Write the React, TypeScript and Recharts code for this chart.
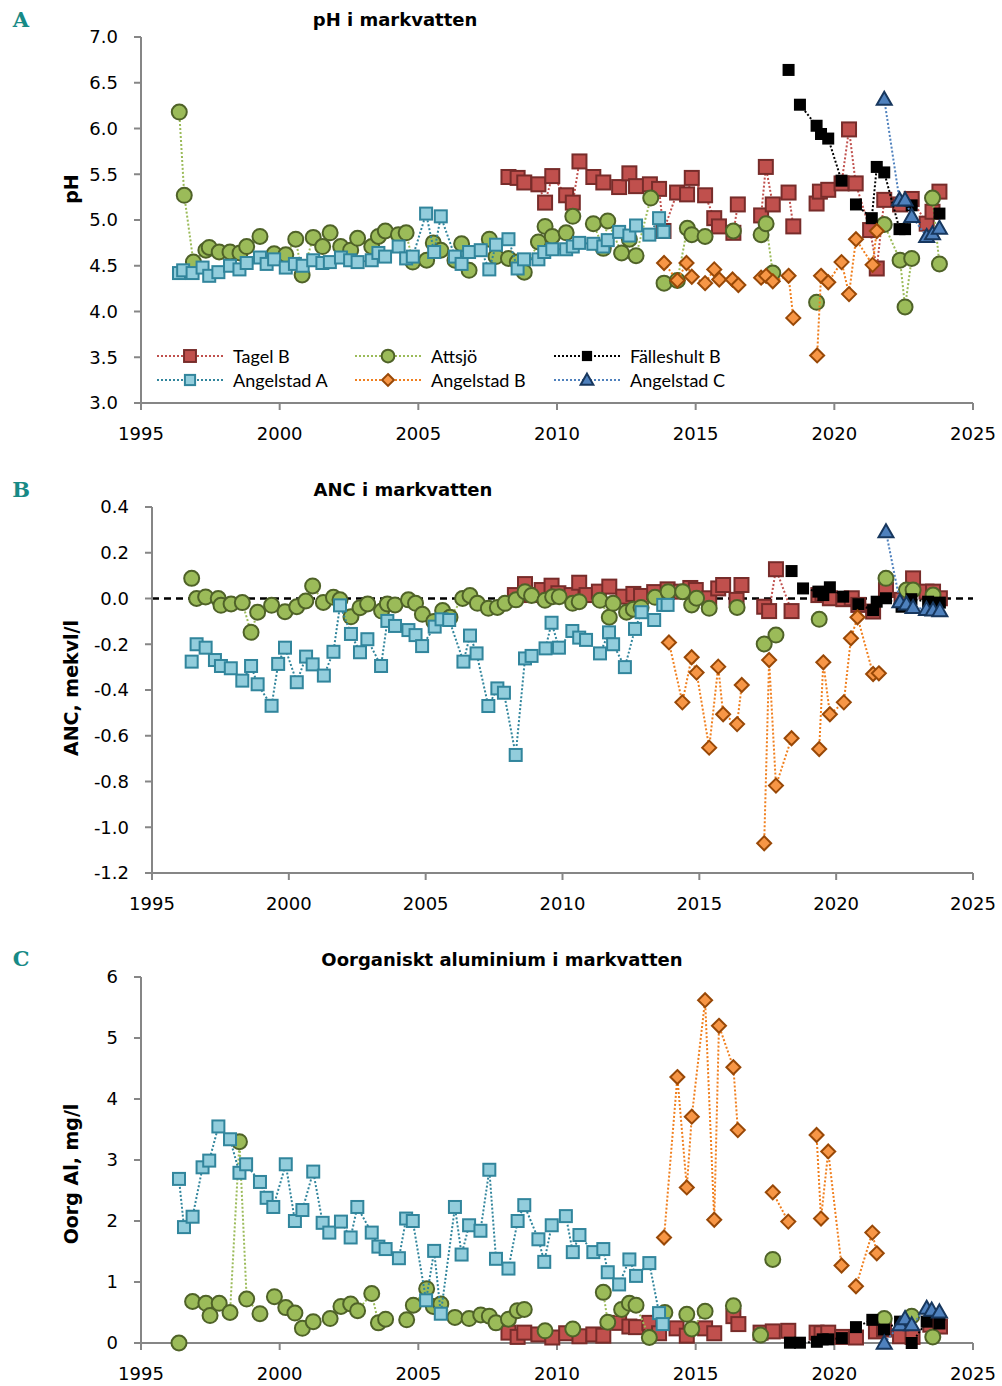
import React from "react";
import { ScatterChart, Scatter, XAxis, YAxis, ReferenceLine } from "recharts";

type Pt = [number, number];

const YEARS = [1995, 2000, 2005, 2010, 2015, 2020, 2025];
const PH_TICKS = [3, 3.5, 4, 4.5, 5, 5.5, 6, 6.5, 7];
const ANC_TICKS = [-1.2, -1.0, -0.8, -0.6, -0.4, -0.2, 0, 0.2, 0.4];
const AL_TICKS = [0, 1, 2, 3, 4, 5, 6];

// --- A: pH i markvatten ---
const phTagelB: Pt[] = [
  [2008.25, 5.47], [2008.58, 5.46], [2008.82, 5.41], [2009.33, 5.39], [2009.57, 5.19], [2009.83, 5.48],
  [2010.33, 5.27], [2010.57, 5.19], [2010.81, 5.64], [2011.31, 5.47], [2011.67, 5.41], [2012.24, 5.36],
  [2012.61, 5.51], [2012.85, 5.37], [2013.35, 5.39], [2013.68, 5.34], [2013.84, 4.88], [2014.33, 5.3],
  [2014.69, 5.28], [2014.86, 5.46], [2015.34, 5.27], [2015.67, 5.02], [2015.84, 4.93], [2016.36, 4.86],
  [2016.52, 5.17], [2017.36, 5.05], [2017.53, 5.58], [2017.78, 5.17], [2018.35, 5.3], [2018.52, 4.93],
  [2019.36, 5.18], [2019.48, 5.31], [2019.78, 5.33], [2020.26, 5.4], [2020.53, 5.99], [2020.77, 5.4],
  [2021.29, 4.89], [2021.53, 4.47], [2021.8, 5.22], [2022.37, 5.17], [2022.79, 5.23], [2023.33, 4.96],
  [2023.54, 5.09], [2023.79, 5.31],
];
const phAttsjo: Pt[] = [
  [1996.38, 6.18], [1996.56, 5.27], [1996.89, 4.54], [1997.34, 4.67], [1997.46, 4.7], [1997.82, 4.65],
  [1998.21, 4.65], [1998.57, 4.64], [1998.81, 4.71], [1999.29, 4.82], [1999.8, 4.63], [2000.22, 4.62],
  [2000.58, 4.79], [2000.81, 4.4], [2001.21, 4.81], [2001.55, 4.71], [2001.82, 4.86], [2002.2, 4.71],
  [2002.56, 4.67], [2002.81, 4.8], [2003.32, 4.71], [2003.56, 4.82], [2003.81, 4.88], [2004.28, 4.84],
  [2004.56, 4.86], [2004.8, 4.54], [2005.3, 4.56], [2005.54, 4.75], [2005.81, 4.67], [2006.32, 4.56],
  [2006.56, 4.74], [2006.83, 4.45], [2007.56, 4.79], [2007.8, 4.6], [2008.25, 4.58], [2008.57, 4.54],
  [2008.82, 4.43], [2009.33, 4.76], [2009.57, 4.93], [2009.83, 4.82], [2010.33, 4.86], [2010.57, 5.04],
  [2011.31, 4.96], [2011.67, 4.69], [2011.83, 4.99], [2012.33, 4.64], [2012.61, 4.79], [2012.85, 4.61],
  [2013.38, 5.24], [2013.86, 4.31], [2014.34, 4.34], [2014.7, 4.91], [2014.86, 4.84], [2015.34, 4.82],
  [2016.36, 4.88], [2017.36, 4.84], [2017.54, 4.96], [2017.78, 4.42], [2019.36, 4.1], [2021.8, 4.95],
  [2022.37, 4.56], [2022.55, 4.05], [2022.79, 4.58], [2023.54, 5.24], [2023.79, 4.52],
];
const phFalleshultB: Pt[] = [
  [2018.35, 6.64], [2018.76, 6.26], [2019.36, 6.03], [2019.52, 5.94], [2019.78, 5.89], [2020.26, 5.43],
  [2020.78, 5.17], [2021.35, 5.02], [2021.53, 5.58], [2021.8, 5.52], [2022.35, 4.9], [2022.55, 4.9],
  [2022.79, 5.16], [2023.79, 5.07],
];
const phAngelstadA: Pt[] = [
  [1996.37, 4.42], [1996.52, 4.45], [1996.86, 4.42], [1997.22, 4.48], [1997.46, 4.39], [1997.79, 4.43],
  [1998.21, 4.5], [1998.55, 4.46], [1998.81, 4.53], [1999.29, 4.59], [1999.53, 4.52], [1999.8, 4.57],
  [2000.22, 4.48], [2000.55, 4.52], [2000.83, 4.5], [2001.21, 4.56], [2001.54, 4.53], [2001.81, 4.54],
  [2002.21, 4.59], [2002.54, 4.56], [2002.81, 4.54], [2003.32, 4.56], [2003.56, 4.64], [2003.8, 4.6],
  [2004.29, 4.71], [2004.56, 4.58], [2004.8, 4.6], [2005.28, 5.07], [2005.57, 4.65], [2005.81, 5.04],
  [2006.32, 4.6], [2006.56, 4.52], [2006.83, 4.65], [2007.25, 4.67], [2007.56, 4.46], [2007.8, 4.73],
  [2008.25, 4.79], [2008.58, 4.47], [2008.81, 4.57], [2009.33, 4.57], [2009.54, 4.65], [2009.83, 4.68],
  [2010.33, 4.68], [2010.57, 4.71], [2010.8, 4.75], [2011.31, 4.74], [2011.67, 4.71], [2011.83, 4.78],
  [2012.24, 4.87], [2012.61, 4.83], [2012.85, 4.94], [2013.33, 4.84], [2013.68, 5.02], [2013.84, 4.87],
];
const phAngelstadB: Pt[] = [
  [2013.86, 4.53], [2014.34, 4.34], [2014.67, 4.53], [2014.86, 4.38], [2015.34, 4.31], [2015.67, 4.46],
  [2015.85, 4.35], [2016.33, 4.35], [2016.54, 4.29], [2017.36, 4.37], [2017.54, 4.39], [2017.78, 4.33],
  [2018.35, 4.39], [2018.52, 3.93], [2019.38, 3.52], [2019.52, 4.39], [2019.78, 4.32], [2020.26, 4.54],
  [2020.53, 4.19], [2020.78, 4.79], [2021.38, 4.51], [2021.53, 4.88],
];
const phAngelstadC: Pt[] = [
  [2021.8, 6.32], [2022.35, 5.22], [2022.55, 5.22], [2022.79, 5.04], [2023.33, 4.82], [2023.54, 4.85],
  [2023.79, 4.91],
];

// --- B: ANC i markvatten ---
const ancTagelB: Pt[] = [
  [2008.26, 0.015], [2008.63, 0.063], [2008.87, 0.015], [2009.24, 0.037], [2009.6, 0.056], [2009.85, 0.023],
  [2010.33, 0.015], [2010.61, 0.069], [2010.88, 0.015], [2011.33, 0.03], [2011.71, 0.052], [2012.22, 0.008],
  [2012.59, 0.02], [2012.87, 0.011], [2013.35, 0.028], [2013.84, 0.04], [2014.33, 0.03], [2014.67, 0.046],
  [2014.87, 0.037], [2015.36, 0.001], [2015.69, 0.044], [2015.87, 0.059], [2016.36, -0.006], [2016.54, 0.059],
  [2017.37, -0.036], [2017.55, -0.055], [2017.8, 0.128], [2018.37, -0.055], [2019.35, 0.015], [2019.5, 0.02],
  [2019.77, 0.001], [2020.26, -0.003], [2020.57, 0.001], [2020.81, -0.028], [2021.35, -0.057], [2021.82, 0.037],
  [2022.39, -0.006], [2022.81, 0.088], [2023.3, 0.03], [2023.54, 0.03], [2023.79, 0.001],
];
const ancAttsjo: Pt[] = [
  [1996.45, 0.088], [1996.63, 0.0], [1996.96, 0.007], [1997.42, 0.0], [1997.52, -0.03], [1997.89, -0.024],
  [1998.3, -0.018], [1998.62, -0.148], [1998.86, -0.06], [1999.37, -0.03], [1999.86, -0.058], [2000.29, -0.036],
  [2000.62, -0.011], [2000.87, 0.055], [2001.26, -0.017], [2001.63, 0.005], [2001.87, -0.006], [2002.27, -0.08],
  [2002.6, -0.04], [2002.88, -0.024], [2003.39, -0.055], [2003.6, -0.024], [2003.88, -0.028], [2004.37, -0.006],
  [2004.63, -0.021], [2004.88, -0.069], [2005.3, -0.1], [2005.62, -0.053], [2005.89, -0.082], [2006.35, 0.0],
  [2006.62, 0.013], [2006.89, -0.021], [2007.29, -0.043], [2007.62, -0.039], [2007.9, -0.021], [2008.3, -0.006],
  [2008.63, 0.03], [2008.87, 0.013], [2009.36, -0.008], [2009.64, 0.008], [2009.88, 0.008], [2010.37, -0.021],
  [2010.61, -0.014], [2011.37, -0.008], [2011.71, -0.082], [2011.85, -0.021], [2012.34, -0.06], [2012.59, -0.047],
  [2012.87, -0.039], [2013.38, 0.005], [2013.86, 0.03], [2014.39, 0.03], [2014.72, -0.028], [2014.9, 0.001],
  [2015.36, -0.043], [2016.38, -0.039], [2017.37, -0.199], [2017.8, -0.16], [2019.38, -0.091], [2021.82, 0.088],
  [2022.57, 0.037], [2022.81, 0.037], [2023.54, 0.015],
];
const ancFalleshultB: Pt[] = [
  [2018.37, 0.12], [2018.79, 0.044], [2019.35, 0.03], [2019.53, 0.015], [2019.77, 0.049], [2020.26, 0.008],
  [2020.81, -0.025], [2021.35, -0.051], [2021.48, -0.014], [2021.82, 0.001], [2022.39, -0.036], [2022.75, -0.003],
  [2023.36, -0.014], [2023.79, -0.018],
];
const ancAngelstadA: Pt[] = [
  [1996.45, -0.276], [1996.63, -0.2], [1996.96, -0.215], [1997.3, -0.269], [1997.52, -0.295], [1997.88, -0.305],
  [1998.3, -0.359], [1998.62, -0.295], [1998.86, -0.375], [1999.37, -0.469], [1999.61, -0.286], [1999.86, -0.215],
  [2000.29, -0.366], [2000.63, -0.254], [2000.87, -0.288], [2001.28, -0.337], [2001.63, -0.233], [2001.87, -0.03],
  [2002.27, -0.155], [2002.6, -0.235], [2002.87, -0.178], [2003.37, -0.295], [2003.6, -0.098], [2003.88, -0.12],
  [2004.37, -0.138], [2004.63, -0.16], [2004.87, -0.208], [2005.33, -0.123], [2005.58, -0.091], [2005.86, -0.094],
  [2006.38, -0.276], [2006.62, -0.162], [2006.86, -0.24], [2007.29, -0.47], [2007.62, -0.393], [2007.86, -0.412],
  [2008.29, -0.684], [2008.63, -0.262], [2008.87, -0.251], [2009.38, -0.218], [2009.6, -0.106], [2009.87, -0.215],
  [2010.36, -0.142], [2010.61, -0.171], [2010.86, -0.181], [2011.37, -0.24], [2011.7, -0.148], [2011.85, -0.2],
  [2012.28, -0.3], [2012.65, -0.133], [2012.89, -0.06], [2013.35, -0.094], [2013.68, -0.028], [2013.84, -0.028],
];
const ancAngelstadB: Pt[] = [
  [2013.89, -0.192], [2014.38, -0.454], [2014.72, -0.257], [2014.9, -0.324], [2015.36, -0.652], [2015.69, -0.298],
  [2015.87, -0.506], [2016.38, -0.549], [2016.55, -0.378], [2017.37, -1.07], [2017.55, -0.269], [2017.8, -0.818],
  [2018.37, -0.611], [2019.38, -0.658], [2019.53, -0.279], [2019.77, -0.506], [2020.28, -0.454], [2020.54, -0.174],
  [2020.78, -0.082], [2021.35, -0.33], [2021.56, -0.327],
];
const ancAngelstadC: Pt[] = [
  [2021.82, 0.292], [2022.33, -0.014], [2022.57, -0.024], [2022.81, -0.039], [2023.3, -0.047], [2023.54, -0.05],
  [2023.79, -0.053],
];

// --- C: Oorganiskt aluminium i markvatten ---
const alTagelB: Pt[] = [
  [2008.25, 0.17], [2008.58, 0.1], [2008.82, 0.17], [2009.33, 0.14], [2009.83, 0.09], [2010.33, 0.16],
  [2010.81, 0.11], [2011.31, 0.14], [2011.67, 0.12], [2012.24, 0.33], [2012.61, 0.27], [2012.85, 0.26],
  [2013.33, 0.33], [2013.68, 0.16], [2014.31, 0.24], [2014.68, 0.12], [2015.34, 0.24], [2015.67, 0.16],
  [2016.36, 0.44], [2016.54, 0.31], [2017.34, 0.17], [2017.78, 0.19], [2018.34, 0.2], [2019.36, 0.17],
  [2019.54, 0.16], [2019.78, 0.17], [2020.28, 0.1], [2020.78, 0.09], [2021.5, 0.19], [2021.79, 0.22],
  [2022.37, 0.11], [2022.82, 0.1], [2023.46, 0.3], [2023.81, 0.27],
];
const alAttsjo: Pt[] = [
  [1996.37, 0.0], [1996.86, 0.68], [1997.34, 0.65], [1997.49, 0.45], [1997.82, 0.65], [1998.21, 0.5],
  [1998.55, 3.3], [1998.81, 0.72], [1999.29, 0.48], [1999.81, 0.76], [2000.22, 0.58], [2000.55, 0.49],
  [2000.82, 0.24], [2001.21, 0.35], [2001.82, 0.4], [2002.21, 0.6], [2002.56, 0.64], [2002.81, 0.53],
  [2003.32, 0.81], [2003.56, 0.33], [2003.82, 0.39], [2004.58, 0.38], [2004.82, 0.62], [2005.3, 0.89],
  [2005.54, 0.6], [2005.81, 0.64], [2006.32, 0.42], [2006.83, 0.4], [2007.25, 0.46], [2007.56, 0.44],
  [2007.8, 0.33], [2008.25, 0.39], [2008.57, 0.53], [2008.82, 0.55], [2009.57, 0.2], [2010.57, 0.23],
  [2011.67, 0.83], [2011.83, 0.34], [2012.33, 0.55], [2012.61, 0.65], [2012.85, 0.62], [2013.33, 0.09],
  [2013.89, 0.5], [2014.68, 0.47], [2014.86, 0.23], [2015.34, 0.52], [2016.36, 0.61], [2017.34, 0.13],
  [2017.78, 1.37], [2021.8, 0.4], [2022.79, 0.44], [2023.55, 0.1],
];
const alFalleshultB: Pt[] = [
  [2018.4, 0.005], [2018.76, 0.005], [2019.37, 0.02], [2019.58, 0.06], [2019.78, 0.06], [2020.27, 0.08],
  [2020.78, 0.26], [2021.37, 0.38], [2021.79, 0.22], [2022.37, 0.35], [2022.79, 0.0], [2023.33, 0.35],
  [2023.79, 0.32],
];
const alAngelstadA: Pt[] = [
  [1996.37, 2.69], [1996.55, 1.9], [1996.86, 2.07], [1997.22, 2.88], [1997.46, 2.99], [1997.79, 3.55],
  [1998.21, 3.34], [1998.55, 2.79], [1998.79, 2.93], [1999.29, 2.64], [1999.53, 2.38], [1999.77, 2.23],
  [2000.22, 2.93], [2000.55, 2.0], [2000.82, 2.18], [2001.21, 2.81], [2001.55, 1.97], [2001.79, 1.81],
  [2002.21, 1.99], [2002.56, 1.73], [2002.8, 2.23], [2003.32, 1.81], [2003.56, 1.58], [2003.82, 1.54],
  [2004.3, 1.39], [2004.56, 2.04], [2004.8, 2.0], [2005.28, 0.7], [2005.57, 1.51], [2005.81, 0.48],
  [2006.32, 2.23], [2006.56, 1.45], [2006.83, 1.93], [2007.24, 1.84], [2007.56, 2.84], [2007.8, 1.38],
  [2008.25, 1.22], [2008.58, 2.0], [2008.82, 2.26], [2009.33, 1.7], [2009.54, 1.33], [2009.81, 1.93],
  [2010.32, 2.08], [2010.57, 1.49], [2010.81, 1.77], [2011.31, 1.49], [2011.67, 1.54], [2011.83, 1.16],
  [2012.24, 0.96], [2012.61, 1.37], [2012.85, 1.1], [2013.33, 1.31], [2013.68, 0.49], [2013.81, 0.31],
];
const alAngelstadB: Pt[] = [
  [2013.86, 1.73], [2014.34, 4.36], [2014.68, 2.55], [2014.86, 3.71], [2015.34, 5.62], [2015.67, 2.02],
  [2015.84, 5.2], [2016.36, 4.52], [2016.52, 3.49], [2017.78, 2.47], [2018.34, 1.99], [2019.36, 3.41],
  [2019.52, 2.04], [2019.78, 3.14], [2020.26, 1.27], [2020.78, 0.93], [2021.37, 1.81], [2021.53, 1.47],
];
const alAngelstadC: Pt[] = [
  [2021.8, 0.0], [2022.37, 0.3], [2022.55, 0.4], [2022.79, 0.3], [2023.33, 0.57], [2023.51, 0.54],
  [2023.79, 0.51],
];

type Kind = "square" | "circle" | "diamond" | "triangle";
type Style = { name: string; line: string; fill: string; stroke: string; kind: Kind; size: number; sw: number };

const STYLES: Style[] = [
  { name: "Tagel B", line: "#C0504D", fill: "#C0504D", stroke: "#772C2A", kind: "square", size: 14, sw: 2 },
  { name: "Attsjö", line: "#9BBB59", fill: "#9BBB59", stroke: "#4F6228", kind: "circle", size: 15, sw: 2 },
  { name: "Fälleshult B", line: "#000000", fill: "#000000", stroke: "#000000", kind: "square", size: 12, sw: 0 },
  { name: "Angelstad A", line: "#31859C", fill: "#92CDDC", stroke: "#31859C", kind: "square", size: 12, sw: 2 },
  { name: "Angelstad B", line: "#F07F1E", fill: "#F79646", stroke: "#984807", kind: "diamond", size: 14, sw: 2 },
  { name: "Angelstad C", line: "#4F81BD", fill: "#4F81BD", stroke: "#17375E", kind: "triangle", size: 15, sw: 2 },
];

function Marker({ cx, cy, s }: { cx: number; cy: number; s: Style }) {
  const h = s.size / 2;
  const common = { fill: s.fill, stroke: s.stroke, strokeWidth: s.sw };
  if (s.kind === "square") return <rect x={cx - h} y={cy - h} width={s.size} height={s.size} {...common} />;
  if (s.kind === "circle") return <circle cx={cx} cy={cy} r={h} {...common} />;
  if (s.kind === "diamond")
    return <polygon points={`${cx},${cy - h} ${cx + h},${cy} ${cx},${cy + h} ${cx - h},${cy}`} {...common} />;
  return <polygon points={`${cx},${cy - h} ${cx + h},${cy + h * 0.75} ${cx - h},${cy + h * 0.75}`} {...common} />;
}

// samples are taken spring / summer / autumn; a missing sample leaves a gap in the line
const slot = (x: number) => {
  const y = Math.floor(x);
  const f = x - y;
  return y * 3 + (f < 0.45 ? 0 : f < 0.75 ? 1 : 2);
};
function runs(arr: Pt[]) {
  const out: { x: number; y: number }[][] = [];
  arr.forEach(([x, y], i) => {
    if (i > 0 && slot(x) - slot(arr[i - 1][0]) === 1) out[out.length - 1].push({ x, y });
    else out.push([{ x, y }]);
  });
  return out;
}

const AXIS_GRAY = "#868686";
const TICK_FONT = { fill: "#000", fontSize: 18, fontFamily: "DejaVu Sans" };

function Panel({
  top, axisWidth, domain, ticks, decimals, series, zeroLine,
}: {
  top: number; axisWidth: number; domain: [number, number]; ticks: number[]; decimals: number; series: Pt[][]; zeroLine?: boolean;
}) {
  return (
    <div style={{ position: "absolute", left: 0, top }}>
      <ScatterChart width={1002} height={443} margin={{ top: 37, right: 29, bottom: 0, left: 0 }}>
        <XAxis
          type="number" dataKey="x" domain={[1995, 2025]} ticks={YEARS} interval={0} height={40}
          axisLine={{ stroke: AXIS_GRAY, strokeWidth: 2 }} tickLine={{ stroke: AXIS_GRAY, strokeWidth: 2 }}
          tickSize={7} tickMargin={17} tick={TICK_FONT}
        />
        <YAxis
          type="number" dataKey="y" domain={domain} ticks={ticks} interval={0} width={axisWidth}
          axisLine={{ stroke: AXIS_GRAY, strokeWidth: 2 }} tickLine={{ stroke: AXIS_GRAY, strokeWidth: 2 }}
          tickSize={7} tickMargin={16} tick={TICK_FONT}
          tickFormatter={(v: number) => v.toFixed(decimals)}
        />
        {zeroLine && <ReferenceLine y={0} stroke="#000" strokeWidth={2.5} strokeDasharray="7 5" />}
        {series.flatMap((d, i) => {
          const s = STYLES[i];
          return runs(d).map((run, j) => (
            <Scatter
              key={`${s.name}-${j}`}
              name={s.name}
              data={run}
              isAnimationActive={false}
              line={run.length > 1 ? { stroke: s.line, strokeWidth: 2, strokeDasharray: "2 2" } : false}
              lineType="joint"
              shape={(p: any) => <Marker cx={p.cx} cy={p.cy} s={s} />}
            />
          ));
        })}
      </ScatterChart>
    </div>
  );
}

function Text({ children, cx, cy, style, rotate }: { children: React.ReactNode; cx: number; cy: number; style?: React.CSSProperties; rotate?: boolean }) {
  return (
    <div
      style={{
        position: "absolute", left: cx, top: cy, whiteSpace: "nowrap", lineHeight: 1,
        transform: `translate(-50%, -50%)${rotate ? " rotate(-90deg)" : ""}`, ...style,
      }}
    >
      {children}
    </div>
  );
}

function LegendItem({ s, x, y }: { s: Style; x: number; y: number }) {
  return (
    <div style={{ position: "absolute", left: x, top: y - 10, height: 20, display: "flex", alignItems: "center" }}>
      <svg width={70} height={20}>
        <line x1={2} y1={10} x2={68} y2={10} stroke={s.line} strokeWidth={2} strokeDasharray="2 2" />
        <Marker cx={35} cy={10} s={{ ...s, size: s.size * 0.85 }} />
      </svg>
      <span style={{ marginLeft: 8, fontFamily: "Lato, sans-serif", fontSize: 18, color: "#000" }}>{s.name}</span>
    </div>
  );
}

const TITLE = { fontFamily: "DejaVu Sans", fontWeight: 700, fontSize: 18, color: "#000" };
const AXIS_TITLE = { fontFamily: "DejaVu Sans", fontWeight: 700, fontSize: 19, color: "#000" };
const LETTER = { fontFamily: "DejaVu Serif", fontWeight: 700, fontSize: 21, color: "#178A86" };

export default function App() {
  const legendCols = [155, 353, 552];
  return (
    <div style={{ position: "absolute", left: 0, top: 0, width: 1002, height: 1386, background: "#fff" }}>
      <Panel top={0} axisWidth={141} domain={[3, 7]} ticks={PH_TICKS} decimals={1}
        series={[phTagelB, phAttsjo, phFalleshultB, phAngelstadA, phAngelstadB, phAngelstadC]} />
      <Panel top={470} axisWidth={152} domain={[-1.2, 0.4]} ticks={ANC_TICKS} decimals={1} zeroLine
        series={[ancTagelB, ancAttsjo, ancFalleshultB, ancAngelstadA, ancAngelstadB, ancAngelstadC]} />
      <Panel top={940} axisWidth={141} domain={[0, 6]} ticks={AL_TICKS} decimals={0}
        series={[alTagelB, alAttsjo, alFalleshultB, alAngelstadA, alAngelstadB, alAngelstadC]} />

      <Text cx={21} cy={19} style={LETTER}>A</Text>
      <Text cx={21} cy={489} style={LETTER}>B</Text>
      <Text cx={21} cy={958} style={LETTER}>C</Text>

      <Text cx={395} cy={20} style={TITLE}>pH i markvatten</Text>
      <Text cx={403} cy={490} style={TITLE}>ANC i markvatten</Text>
      <Text cx={502} cy={960} style={TITLE}>Oorganiskt aluminium i markvatten</Text>

      <Text cx={71} cy={189} style={AXIS_TITLE} rotate>pH</Text>
      <Text cx={71} cy={688} style={AXIS_TITLE} rotate>ANC, mekvl/l</Text>
      <Text cx={71} cy={1174} style={AXIS_TITLE} rotate>Oorg Al, mg/l</Text>

      {STYLES.map((s, i) => (
        <LegendItem key={s.name} s={s} x={legendCols[i % 3]} y={i < 3 ? 356 : 380} />
      ))}
    </div>
  );
}
